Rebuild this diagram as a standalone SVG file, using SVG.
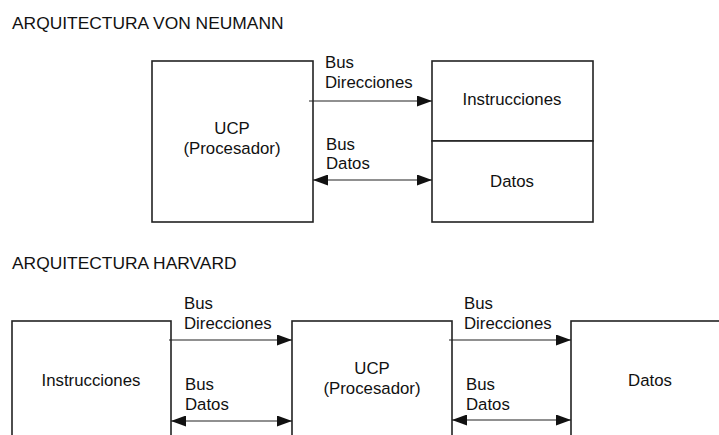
<svg xmlns="http://www.w3.org/2000/svg" width="719" height="435" viewBox="0 0 719 435">
<style>
text{font-family:"Liberation Sans",Arial,sans-serif;font-size:16.8px;fill:#111}
.t{font-size:17.4px}
.c{text-anchor:middle}
.box{fill:#fff;stroke:#222;stroke-width:1.6}
.ln{stroke:#222;stroke-width:1.2;fill:none}
</style>
<defs>
<marker id="ah" markerWidth="15" markerHeight="11" refX="15" refY="5.5" orient="auto-start-reverse" markerUnits="userSpaceOnUse">
<path d="M0,0 L15,5.5 L0,11 Z" fill="#111"/>
</marker>
</defs>
<rect width="719" height="435" fill="#fff"/>
<text class="t" x="12" y="29">ARQUITECTURA VON NEUMANN</text>
<text class="t" x="12" y="269">ARQUITECTURA HARVARD</text>

<g id="vn-ucp">
<rect class="box" x="152" y="61" width="161" height="161"/>
<text class="c" x="232" y="134">UCP</text>
<text class="c" x="232" y="154">(Procesador)</text>
</g>
<g id="vn-instrucciones">
<rect class="box" x="432" y="61" width="161" height="80"/>
<text class="c" x="512" y="105">Instrucciones</text>
</g>
<g id="vn-datos">
<rect class="box" x="432" y="141" width="161" height="81"/>
<text class="c" x="512" y="187">Datos</text>
</g>

<g id="hv-instrucciones">
<rect class="box" x="12" y="321" width="159" height="130"/>
<text class="c" x="91" y="386">Instrucciones</text>
</g>
<g id="hv-ucp">
<rect class="box" x="292" y="321" width="160" height="130"/>
<text class="c" x="372" y="374">UCP</text>
<text class="c" x="372" y="394">(Procesador)</text>
</g>
<g id="hv-datos">
<rect class="box" x="571" y="321" width="160" height="130"/>
<text class="c" x="650" y="386">Datos</text>
</g>

<g id="connectors">
<line class="ln" x1="309" y1="101" x2="432" y2="101" marker-end="url(#ah)"/>
<line class="ln" x1="313" y1="180" x2="432" y2="180" marker-start="url(#ah)" marker-end="url(#ah)"/>
<line class="ln" x1="169" y1="340" x2="292" y2="340" marker-end="url(#ah)"/>
<line class="ln" x1="171" y1="421" x2="292" y2="421" marker-start="url(#ah)" marker-end="url(#ah)"/>
<line class="ln" x1="449" y1="340" x2="571" y2="340" marker-end="url(#ah)"/>
<line class="ln" x1="452" y1="420" x2="571" y2="420" marker-start="url(#ah)" marker-end="url(#ah)"/>
</g>
<g id="labels">
<text x="325" y="68">Bus</text>
<text x="325" y="88">Direcciones</text>
<text x="326" y="150">Bus</text>
<text x="326" y="169">Datos</text>
<text x="184" y="309">Bus</text>
<text x="184" y="329">Direcciones</text>
<text x="185" y="390">Bus</text>
<text x="185" y="410">Datos</text>
<text x="464" y="309">Bus</text>
<text x="464" y="329">Direcciones</text>
<text x="466" y="390">Bus</text>
<text x="466" y="410">Datos</text>
</g>
</svg>
